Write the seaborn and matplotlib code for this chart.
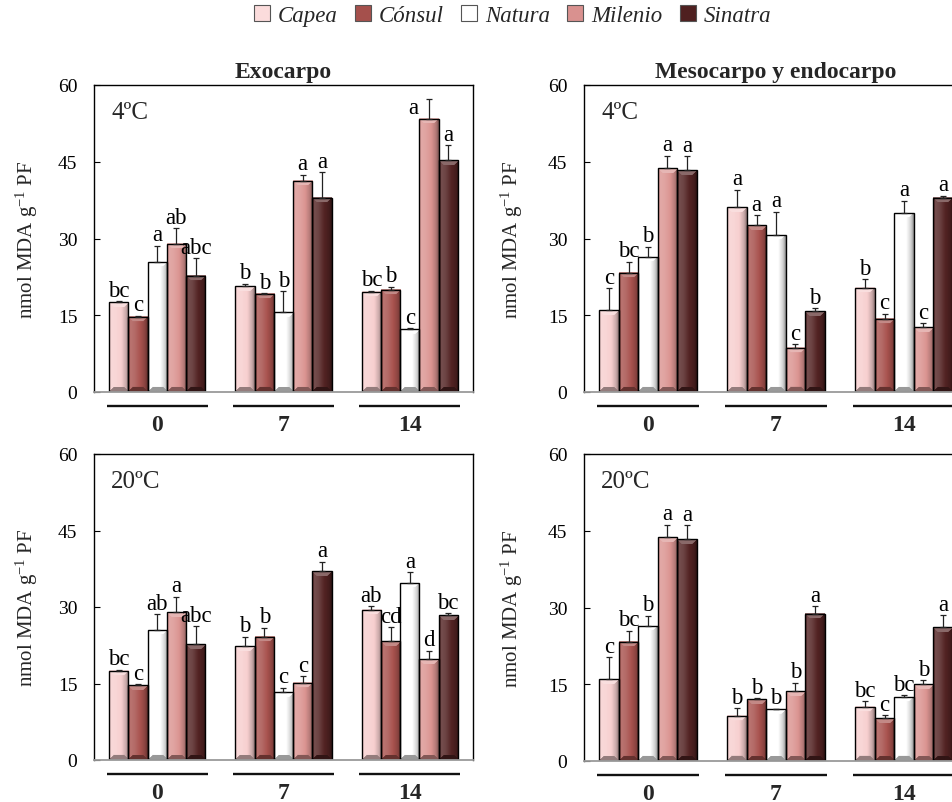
import numpy as np
import pandas as pd
import matplotlib
matplotlib.use("Agg")
import matplotlib.pyplot as plt
import matplotlib.colors as mcolors
from matplotlib.patches import Patch
import seaborn as sns

# ---- data -------------------------------------------------------------
days = ["0", "7", "14"]
cultivars = ["Capea", "Cónsul", "Natura", "Milenio", "Sinatra"]
colors = ["#f7cfcf", "#a8524e", "#ffffff", "#db9491", "#532323"]

# Exocarpo, 4 ºC (rows = day 0, 7, 14; columns = cultivars)
exo4_mean = [[17.5, 14.7, 25.5, 29.0, 22.7],
             [20.7, 19.2, 15.6, 41.3, 38.0],
             [19.6, 20.0, 12.3, 53.4, 45.3]]
exo4_err = [[0.2, 0.2, 3.1, 3.0, 3.5],
            [0.5, 0.1, 4.1, 1.2, 4.9],
            [0.2, 0.6, 0.2, 3.8, 2.9]]
exo4_letters = [["bc", "c", "a", "ab", "abc"],
                ["b", "b", "b", "a", "a"],
                ["bc", "b", "c", "a", "a"]]

# Mesocarpo y endocarpo, 4 ºC
meso4_mean = [[16.0, 23.3, 26.4, 43.7, 43.3],
              [36.1, 32.6, 30.7, 8.6, 15.8],
              [20.4, 14.3, 35.0, 12.7, 38.0]]
meso4_err = [[4.3, 2.2, 2.0, 2.5, 2.8],
             [3.4, 1.9, 4.5, 0.7, 0.6],
             [1.6, 1.0, 2.4, 0.7, 0.4]]
meso4_letters = [["c", "bc", "b", "a", "a"],
                 ["a", "a", "a", "c", "b"],
                 ["b", "c", "a", "c", "a"]]

# Exocarpo, 20 ºC
exo20_mean = [[17.5, 14.7, 25.5, 29.0, 22.7],
              [22.3, 24.2, 13.3, 15.1, 37.0],
              [29.5, 23.3, 34.8, 19.8, 28.4]]
exo20_err = [[0.2, 0.2, 3.1, 3.0, 3.5],
             [1.9, 1.7, 0.9, 1.3, 1.9],
             [0.6, 2.7, 2.0, 1.6, 0.4]]
exo20_letters = [["bc", "c", "ab", "a", "abc"],
                 ["b", "b", "c", "c", "a"],
                 ["ab", "cd", "a", "d", "bc"]]

# Mesocarpo y endocarpo, 20 ºC
meso20_mean = [[16.0, 23.3, 26.4, 43.7, 43.3],
               [8.8, 12.1, 10.1, 13.6, 28.8],
               [10.6, 8.4, 12.6, 15.0, 26.1]]
meso20_err = [[4.3, 2.2, 2.0, 2.5, 2.8],
              [1.5, 0.2, 0.1, 1.7, 1.4],
              [1.1, 0.5, 0.3, 0.8, 2.4]]
meso20_letters = [["c", "bc", "b", "a", "a"],
                  ["b", "b", "b", "b", "a"],
                  ["bc", "c", "bc", "b", "a"]]

y_ticks = [0, 15, 30, 45, 60]
y_label = r"nmol MDA g$^{\mathregular{-1}}$ PF"

# ---- style ------------------------------------------------------------
sns.set_theme(style="white")
plt.rcParams["font.family"] = ["Liberation Serif", "DejaVu Serif"]
plt.rcParams["mathtext.fontset"] = "custom"
plt.rcParams["mathtext.rm"] = "Liberation Serif"
plt.rcParams["mathtext.it"] = "Liberation Serif:italic"

W, H = 953, 803
fig = plt.figure(figsize=(W / 100, H / 100), dpi=100)


def frac(left, top, right, bottom):
    return [left / W, 1 - bottom / H, (right - left) / W, (bottom - top) / H]


def tone(rgb, k):
    rgb = np.asarray(rgb)[None, None, :]
    k = k[:, :, None]
    return np.where(k >= 0, rgb + (1 - rgb) * k, rgb * (1 + k))


def bevel(rgb, w, h):
    w = max(int(round(w)), 2)
    h = max(int(round(h)), 2)
    t = (np.arange(w) + 0.5) / w
    prof = np.interp(t, [0, 0.12, 0.35, 0.62, 0.85, 1.0],
                     [-0.12, 0.2, 0.14, 0.0, -0.18, -0.45])
    K = np.tile(prof, (h, 1))
    rr, cc = np.mgrid[0:h, 0:w]
    b = min(5, h // 2)
    top = (rr < b) & (cc >= rr) & (cc < w - rr)
    K[top] = 0.32
    d = h - 1 - rr
    bot = (d < b) & (cc >= d) & (cc < w - d)
    K[bot] = -0.4
    return np.clip(tone(rgb, K), 0, 1)


def panel(ax, mean, err, letters, temp, ylabel_x, title=None, special=None):
    rows = []
    for i, d in enumerate(days):
        for j, c in enumerate(cultivars):
            rows.append(dict(day=d, cultivar=c, value=mean[i][j],
                             err=err[i][j], letter=letters[i][j]))
    df = pd.DataFrame(rows)
    sns.barplot(data=df, x="day", y="value", hue="cultivar", order=days,
                hue_order=cultivars, palette=colors, width=0.76,
                saturation=1, edgecolor="black", linewidth=1.0,
                errorbar=None, legend=False, ax=ax)
    ax.set_xlim(-0.5, 2.5)
    ax.set_ylim(0, 60)
    fig.canvas.draw()
    patches = sorted([p for p in ax.patches if p.get_height() > 0],
                     key=lambda p: p.get_x())
    to_px = ax.transData
    for p, (_, r) in zip(patches, df.iterrows()):
        x0, y0 = p.get_x(), p.get_y()
        x1, y1 = x0 + p.get_width(), y0 + p.get_height()
        (px0, py0), (px1, py1) = to_px.transform([(x0, y0), (x1, y1)])
        rgb = mcolors.to_rgb(colors[cultivars.index(r.cultivar)])
        img = bevel(rgb, px1 - px0, py1 - py0)
        ax.imshow(img, extent=[x0, x1, y0, y1], aspect="auto",
                  interpolation="bilinear", zorder=p.get_zorder() - 0.05)
        p.set_facecolor("none")
        xc = x0 + p.get_width() / 2
        ax.errorbar([xc], [r.value], yerr=[[0], [r.err]], fmt="none",
                    ecolor="#222222", elinewidth=0.9, capsize=2.5,
                    capthick=0.9, zorder=p.get_zorder() + 0.1)
        key = (r.day, r.cultivar)
        if special and key in special:
            dx, base = special[key]
        else:
            dx, base = 0, r.value + r.err
        ax.annotate(r.letter, (xc, base), xytext=(dx, 0.3),
                    textcoords="offset points", ha="center", va="bottom",
                    fontsize=16.5, color="black", zorder=6)
    ax.set_xlim(-0.5, 2.5)
    ax.set_ylim(0, 60)
    ax.set_yticks(y_ticks)
    ax.set_yticklabels([str(v) for v in y_ticks])
    ax.tick_params(axis="y", direction="in", length=4, width=0.8,
                   pad=12, labelsize=14, left=True, colors="black")
    ax.tick_params(axis="x", length=0, pad=15.5, labelsize=17)
    for lab in ax.get_xticklabels():
        lab.set_fontweight("bold")
    for s in ["left", "top", "right"]:
        ax.spines[s].set_color("black")
        ax.spines[s].set_linewidth(1.0)
    ax.spines["bottom"].set_color("#9a9a9a")
    ax.spines["bottom"].set_linewidth(1.3)
    ax.set_xlabel("")
    ax.set_ylabel(y_label, fontsize=15)
    ax.yaxis.set_label_coords(ylabel_x, 0.5)
    for i in range(len(days)):
        ax.plot([i - 0.4, i + 0.4], [-0.046, -0.046],
                transform=ax.get_xaxis_transform(), clip_on=False,
                color="#111111", lw=1.7, solid_capstyle="butt")
    ax.text(0.045, 0.912, temp, transform=ax.transAxes, fontsize=18,
            ha="left", va="center")
    if title:
        ax.set_title(title, fontweight="bold", fontsize=17, pad=6)


ax1 = fig.add_axes(frac(94, 86, 473, 393))
ax2 = fig.add_axes(frac(584, 86, 968, 393))
ax3 = fig.add_axes(frac(94, 455, 473, 761))
ax4 = fig.add_axes(frac(584, 455, 968, 762))

panel(ax1, exo4_mean, exo4_err, exo4_letters, "4ºC", -54 / 379,
      title="Exocarpo", special={("14", "Milenio"): (-11, 53.4)})
panel(ax2, meso4_mean, meso4_err, meso4_letters, "4ºC", -59 / 384,
      title="Mesocarpo y endocarpo")
panel(ax3, exo20_mean, exo20_err, exo20_letters, "20ºC", -54 / 379)
panel(ax4, meso20_mean, meso20_err, meso20_letters, "20ºC", -59 / 384)

handles = [Patch(facecolor=c, edgecolor="#555555", linewidth=0.8)
           for c in ["#fbdcdc", "#a5504c", "#ffffff", "#d9918f", "#4f2020"]]
fig.legend(handles, cultivars, loc="center", bbox_to_anchor=(0.538, 0.979),
           ncol=5, frameon=False,
           prop=dict(family="Liberation Serif", style="italic", size=16.5),
           handlelength=0.7, handleheight=0.7, handletextpad=0.35,
           columnspacing=0.75)

fig.savefig("out.png", dpi=100)
